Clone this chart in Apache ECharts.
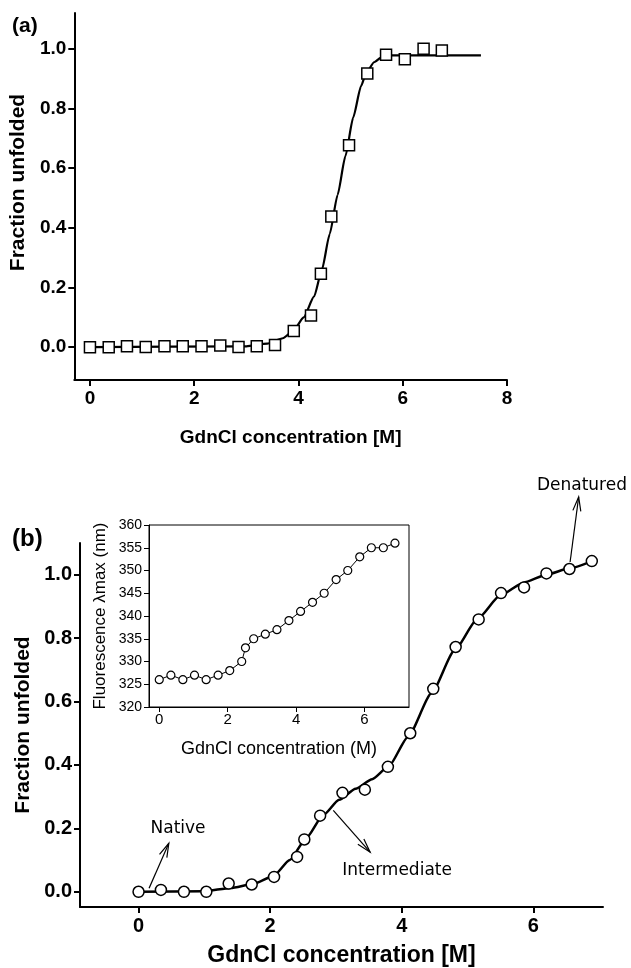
<!DOCTYPE html>
<html>
<head>
<meta charset="utf-8">
<script src="https://cdn.jsdelivr.net/npm/echarts@6/dist/echarts.min.js"></script>
<style>
  html, body { margin: 0; padding: 0; background: #fff; }
  #chart { width: 631px; height: 968px; }
</style>
</head>
<body>
<div id="chart"></div>
<script>
// panel (a): GdnCl denaturation, squares + fitted curve
const concA = [0, 0.36, 0.71, 1.07, 1.43, 1.78, 2.14, 2.5, 2.85, 3.2, 3.55, 3.91, 4.24, 4.43, 4.63, 4.97, 5.32, 5.68, 6.04, 6.4, 6.75];
const fracA = [0, 0, 0.003, 0.001, 0.003, 0.003, 0.003, 0.006, 0.001, 0.003, 0.007, 0.054, 0.106, 0.246, 0.438, 0.677, 0.917, 0.98, 0.965, 1.0, 0.994];
const fitConcA = [0, 3.0, 3.4, 3.7, 3.9, 4.1, 4.3, 4.45, 4.6, 4.75, 4.9, 5.05, 5.2, 5.3, 5.45, 5.6, 5.8, 6.1, 7.5];
const fitFracA = [0, 0.003, 0.012, 0.03, 0.055, 0.1, 0.17, 0.26, 0.38, 0.51, 0.64, 0.77, 0.875, 0.92, 0.955, 0.972, 0.978, 0.978, 0.978];

// panel (b): circles + fitted curve, inset = emission maximum
const concB = [0, 0.34, 0.69, 1.03, 1.37, 1.72, 2.06, 2.41, 2.52, 2.76, 3.1, 3.44, 3.79, 4.13, 4.48, 4.82, 5.17, 5.51, 5.86, 6.2, 6.55, 6.89];
const fracB = [0, 0.006, 0, 0, 0.026, 0.023, 0.047, 0.11, 0.165, 0.24, 0.312, 0.322, 0.394, 0.5, 0.64, 0.772, 0.859, 0.942, 0.96, 1.004, 1.018, 1.043];
const fitConcB = [0, 1.0, 1.4, 1.75, 2.05, 2.3, 2.55, 2.8, 3.05, 3.3, 3.55, 3.8, 4.1, 4.45, 4.8, 5.15, 5.5, 5.85, 6.2, 6.55, 6.89];
const fitFracB = [0, 0.002, 0.012, 0.025, 0.05, 0.1, 0.17, 0.24, 0.29, 0.325, 0.355, 0.395, 0.49, 0.625, 0.76, 0.86, 0.935, 0.975, 1.0, 1.02, 1.043];
const lambdaMax = [326, 327, 326, 327, 326, 327, 328, 330, 333, 335, 336, 337, 339, 341, 343, 345, 348, 350, 353, 355, 355, 356];

// tick values
const ticksXA = [0, 2, 4, 6, 8];
const ticksXB = [0, 2, 4, 6];
const ticksY = [0, 0.2, 0.4, 0.6, 0.8, 1.0];

// arrows in panel (b): from point, to point, text position (data units)
const annoText = ['Native', 'Intermediate', 'Denatured'];
const annoFrom = [[0.16, 0.011], [2.96, 0.257], [6.56, 1.04]];
const annoTo = [[0.46, 0.153], [3.52, 0.125], [6.69, 1.245]];
const annoLabel = [[0.60, 0.20], [3.93, 0.068], [6.74, 1.28]];

const zip = (xs, ys) => xs.map((x, i) => [x, ys[i]]);

const chart = echarts.init(document.getElementById('chart'));

const boldFont = 'Liberation Sans';
function mainX(idx, min, max, ticks, fs, nameFs, nameGap) {
  return {
    type: 'value', gridIndex: idx, min: min, max: max,
    name: 'GdnCl concentration [M]', nameLocation: 'middle', nameGap: nameGap,
    nameTextStyle: { fontFamily: boldFont, fontWeight: 'bold', fontSize: nameFs, color: '#000' },
    axisLine: { onZero: false, lineStyle: { color: '#000', width: 2 } },
    axisTick: { inside: false, length: 6, lineStyle: { width: 2 }, customValues: ticks },
    axisLabel: { customValues: ticks, margin: 9, fontFamily: boldFont, fontWeight: 'bold', fontSize: fs, color: '#000' },
    splitLine: { show: false }
  };
}
function mainY(idx, min, max, fs, nameFs, nameGap, pad) {
  return {
    type: 'value', gridIndex: idx, min: min, max: max,
    name: 'Fraction unfolded', nameLocation: 'middle', nameGap: nameGap,
    nameTextStyle: { fontFamily: boldFont, fontWeight: 'bold', fontSize: nameFs, color: '#000', padding: pad },
    axisLine: { onZero: false, lineStyle: { color: '#000', width: 2 } },
    axisTick: { inside: false, length: 6, lineStyle: { width: 2 }, customValues: ticksY },
    axisLabel: { customValues: ticksY, margin: 8, fontFamily: boldFont, fontWeight: 'bold', fontSize: fs, color: '#000',
      formatter: v => v.toFixed(1) },
    splitLine: { show: false }
  };
}

const option = {
  backgroundColor: '#fff',
  animation: false,
  title: [
    { text: '(a)', left: 7, top: 11, textStyle: { fontFamily: boldFont, fontWeight: 'bold', fontSize: 21, color: '#000' } },
    { text: '(b)', left: 7, top: 522, textStyle: { fontFamily: boldFont, fontWeight: 'bold', fontSize: 24, color: '#000' } }
  ],
  grid: [
    { left: 70, top: 13, width: 437, height: 367 },
    { left: 80, top: 543, width: 523, height: 364 },
    { left: 149, top: 525, width: 260, height: 182, show: true, borderColor: '#000', borderWidth: 1, backgroundColor: 'transparent' }
  ],
  xAxis: [
    mainX(0, -0.3, 8, ticksXA, 19, 19, 48),
    mainX(1, -0.89, 7.06, ticksXB, 20, 23, 37),
    {
      type: 'value', gridIndex: 2, min: -0.3, max: 7.3,
      name: 'GdnCl concentration (M)', nameLocation: 'middle', nameGap: 33,
      nameTextStyle: { fontFamily: 'Liberation Sans', fontSize: 18, color: '#000' },
      axisLine: { onZero: false, lineStyle: { color: '#000', width: 1 } },
      axisTick: { inside: false, length: 5, customValues: ticksXB },
      axisLabel: { customValues: ticksXB, margin: 5, fontFamily: 'Liberation Sans', fontSize: 15, color: '#000' },
      splitLine: { show: false }
    }
  ],
  yAxis: [
    mainY(0, -0.11, 1.12, 19, 21, 44, [0, 0, 0, 28]),
    mainY(1, -0.048, 1.1, 20, 21, 44, [0, 0, 0, 0]),
    {
      type: 'value', gridIndex: 2, min: 320, max: 360, interval: 5,
      name: 'Fluorescence λmax (nm)', nameLocation: 'middle', nameGap: 40,
      nameTextStyle: { fontFamily: 'Liberation Sans', fontSize: 17, color: '#000' },
      axisLine: { onZero: false, lineStyle: { color: '#000', width: 1 } },
      axisTick: { inside: false, length: 5 },
      axisLabel: { margin: 7, fontFamily: 'Liberation Sans', fontSize: 14, color: '#000' },
      splitLine: { show: false }
    }
  ],
  series: [
    {
      name: 'fit a', type: 'line', xAxisIndex: 0, yAxisIndex: 0,
      data: zip(fitConcA, fitFracA), showSymbol: false, smooth: 0.2, smoothMonotone: 'x',
      lineStyle: { color: '#000', width: 2.2 }, z: 2
    },
    {
      name: 'data a', type: 'scatter', xAxisIndex: 0, yAxisIndex: 0,
      data: zip(concA, fracA), symbol: 'rect', symbolSize: 11,
      itemStyle: { color: '#fff', borderColor: '#000', borderWidth: 1.5, opacity: 1 }, z: 3
    },
    {
      name: 'fit b', type: 'line', xAxisIndex: 1, yAxisIndex: 1,
      data: zip(fitConcB, fitFracB), showSymbol: false, smooth: 0.2, smoothMonotone: 'x',
      lineStyle: { color: '#000', width: 2.5 }, z: 2
    },
    {
      name: 'data b', type: 'scatter', xAxisIndex: 1, yAxisIndex: 1,
      data: zip(concB, fracB), symbol: 'circle', symbolSize: 11,
      itemStyle: { color: '#fff', borderColor: '#000', borderWidth: 1.5, opacity: 1 }, z: 3
    },
    {
      name: 'lambda max', type: 'line', xAxisIndex: 2, yAxisIndex: 2,
      data: zip(concB, lambdaMax), symbol: 'circle', symbolSize: 8, showSymbol: true,
      lineStyle: { color: '#000', width: 1 },
      itemStyle: { color: '#fff', borderColor: '#000', borderWidth: 1.2 }, z: 3
    },
    {
      name: 'arrows', type: 'custom', xAxisIndex: 1, yAxisIndex: 1, clip: false, silent: true,
      data: annoText.map((t, i) => [annoFrom[i][0], annoFrom[i][1], annoTo[i][0], annoTo[i][1], annoLabel[i][0], annoLabel[i][1]]),
      renderItem: function (params, api) {
        const p0 = api.coord([api.value(0), api.value(1)]);
        const p1 = api.coord([api.value(2), api.value(3)]);
        const pl = api.coord([api.value(4), api.value(5)]);
        const dx = p1[0] - p0[0], dy = p1[1] - p0[1];
        const len = Math.sqrt(dx * dx + dy * dy);
        const ux = dx / len, uy = dy / len;
        const hl = 14, hw = 4;
        const bx = p1[0] - ux * hl, by = p1[1] - uy * hl;
        return {
          type: 'group',
          children: [
            { type: 'line', shape: { x1: p0[0], y1: p0[1], x2: p1[0], y2: p1[1] }, style: { stroke: '#000', lineWidth: 1.2 } },
            { type: 'polyline', shape: { points: [[bx - uy * hw, by + ux * hw], p1, [bx + uy * hw, by - ux * hw]] },
              style: { stroke: '#000', lineWidth: 1.2, fill: null } },
            { type: 'text', x: pl[0], y: pl[1],
              style: { text: annoText[params.dataIndex], fontFamily: 'DejaVu Sans', fontSize: 17, fill: '#000',
                align: 'center', verticalAlign: 'middle' } }
          ]
        };
      },
      z: 4
    }
  ]
};

chart.setOption(option);
</script>
</body>
</html>
